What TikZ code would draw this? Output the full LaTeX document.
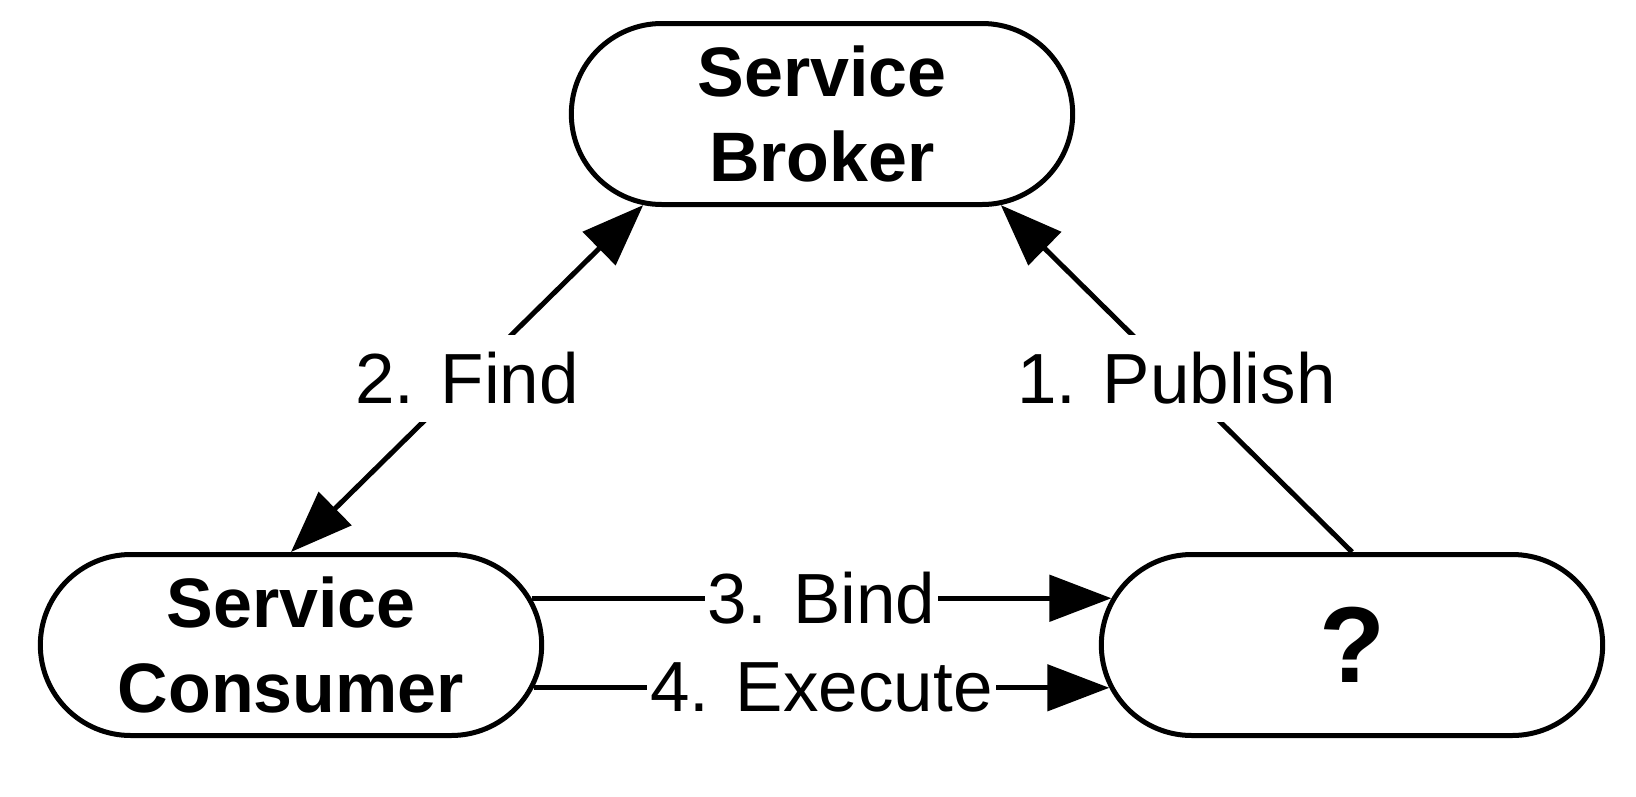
\documentclass[tikz,border=0pt]{standalone}
\usepackage{fontspec}
\setmainfont{Liberation Sans}
\usetikzlibrary{arrows.meta, positioning, shapes.misc}

\tikzset{
  role/.style={draw, line width=5pt, rounded rectangle, minimum width=508pt, minimum height=181pt,
    align=center, font=\fontsize{70}{85}\selectfont\bfseries},
  msg/.style={fill=white, inner xsep=3pt, inner ysep=17pt, font=\fontsize{71}{85}\selectfont},
  flow/.style={line width=5pt},
  >={Triangle[length=62pt, width=46pt]}
}

\begin{document}
\begin{tikzpicture}[x=1pt, y=-1pt]
        \useasboundingbox (0,0) rectangle (1636,796);
        \node[role] (broker) at (822,114) {Service\\Broker};
        \node[role] (consumer) at (291,645) {Service\\Consumer};
        \node[role, font=\fontsize{108}{110}\selectfont\bfseries] (provider) at (1352,645) {?};
        %\node at (822,400) {Registry};
        \draw[flow, <->] (consumer.north) -- node[msg] {2. Find} (broker.207);
        \draw[flow, ->] (provider.north) -- node[msg] {1. Publish} (broker.333);
        \draw[flow, ->] (consumer.11) -- node[msg, inner ysep=2pt] {3. Bind} (provider.169);
        \draw[flow, ->] (consumer.-10.3) -- node[msg, inner ysep=2pt] {4. Execute} (provider.190.3);
      \end{tikzpicture}
\end{document}
